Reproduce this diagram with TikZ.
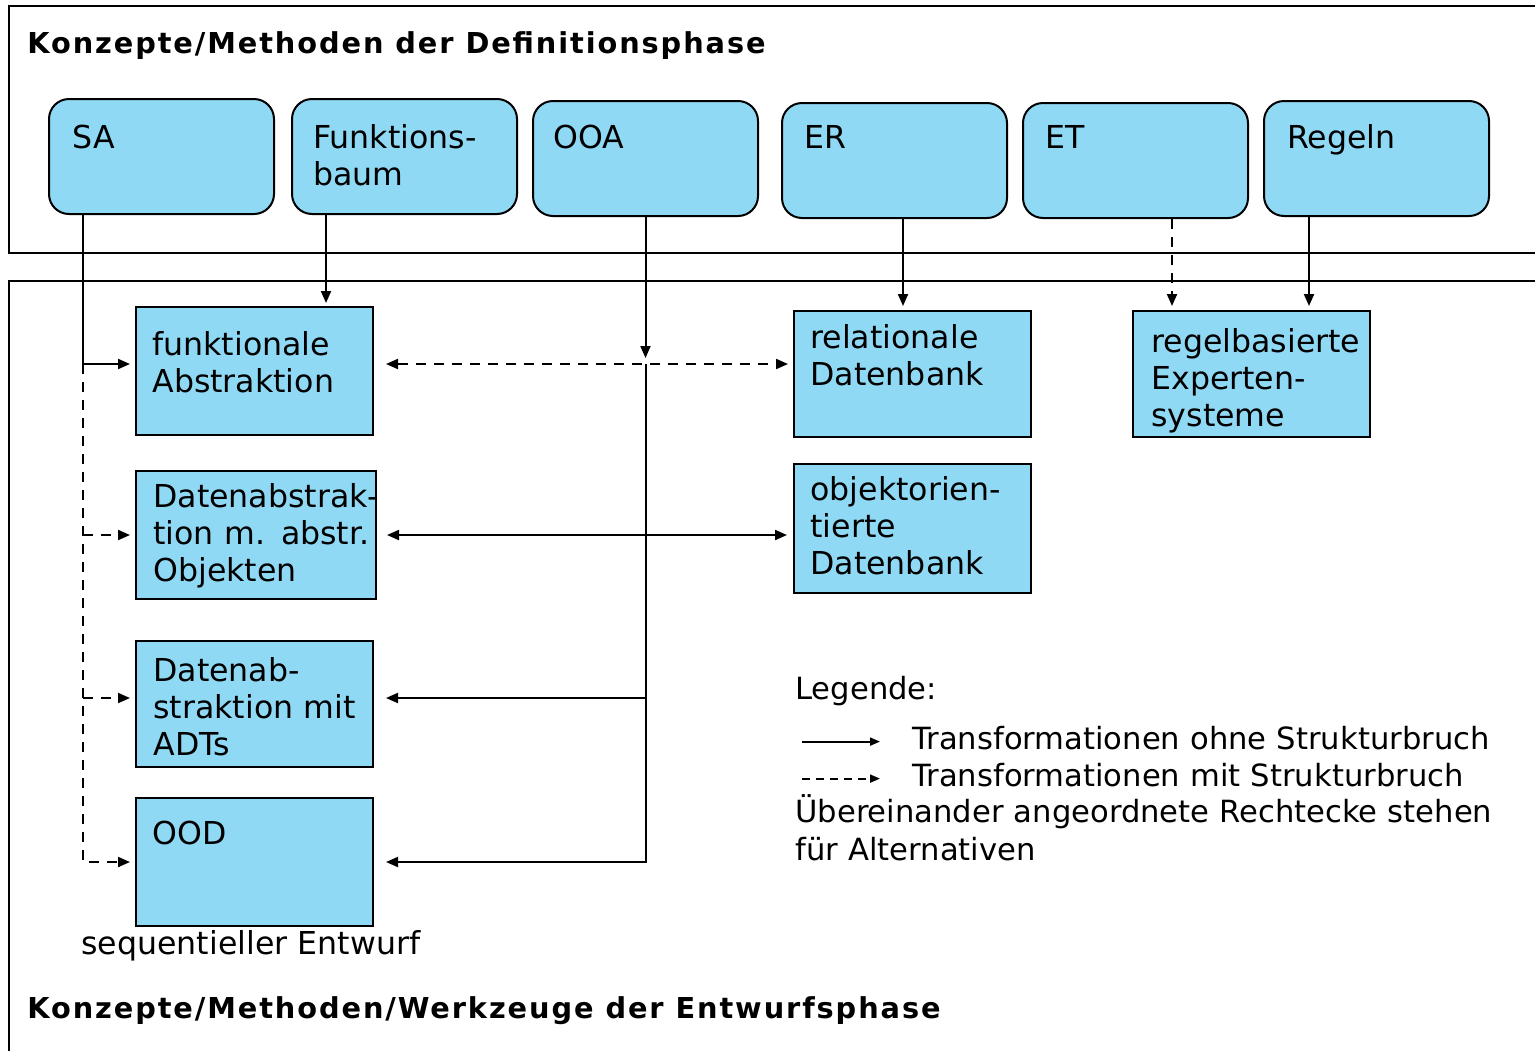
\documentclass[tikz,border=0pt]{standalone}
\usepackage{fontspec}
\setmainfont{DejaVu Sans}
\usetikzlibrary{arrows.meta}
\definecolor{boxblue}{RGB}{144,217,245}
\tikzset{
  topbox/.style={draw, fill=boxblue, line width=1pt, rounded corners=10pt, anchor=north west, inner sep=0pt, minimum width=112.5pt, minimum height=57.5pt},
  lowbox/.style={draw, fill=boxblue, line width=1pt, anchor=north west, inner sep=0pt, minimum width=118.5pt, minimum height=64pt},
  boxtext/.style={anchor=base west, inner sep=0pt, text width=125pt, align=left, font=\fontsize{15.8}{18.5}\selectfont},
  legtext/.style={boxtext, text width=380pt, font=\fontsize{15.3}{19}\selectfont},
  heading/.style={anchor=base west, inner sep=0pt, font=\fontsize{14.4}{17}\selectfont\bfseries\addfontfeatures{LetterSpace=6.6}},
  conn/.style={line width=1pt, -{Triangle[length=6pt,width=5pt]}},
  legconn/.style={line width=1pt, -{Triangle[length=5pt,width=4pt]}},
  dashline/.style={dash pattern=on 5pt off 4pt},
}
\begin{document}
\begin{tikzpicture}[x=0.5pt, y=-0.5pt]
\useasboundingbox (0,0) rectangle (1535,1050);
% frames of the two phases
\draw[line width=1pt] (1540,6) -- (9,6) -- (9,253) -- (1540,253);
\draw[line width=1pt] (1540,281) -- (9,281) -- (9,1060);
\node[heading] (defphase) at (27,53) {Konzepte/Methoden der Definitionsphase};
\node[heading] (entphase) at (27,1018) {Konzepte/Methoden/Werkzeuge der Entwurfsphase};
% methods of the definition phase
\node[topbox] (sa) at (48,98) {};
\node[topbox] (fb) at (291,98) {};
\node[topbox] (ooa) at (532,100) {};
\node[topbox] (er) at (781,102) {};
\node[topbox] (et) at (1022,102) {};
\node[topbox] (rg) at (1263,100) {};
\node[boxtext] (satext) at (72,148) {SA};
\node[boxtext] (fbtext) at (313,148) {Funktions-\\baum};
\node[boxtext] (ooatext) at (553,148) {OOA};
\node[boxtext] (ertext) at (804,148) {ER};
\node[boxtext] (ettext) at (1045,148) {ET};
\node[boxtext] (rgtext) at (1287,148) {Regeln};
% design concepts
\node[lowbox] (fa) at (135,306) {};
\node[lowbox, minimum width=120pt] (da) at (135,470) {};
\node[lowbox, minimum height=63pt] (adt) at (135,640) {};
\node[lowbox] (ood) at (135,797) {};
\node[lowbox, minimum height=63pt] (rdb) at (793,310) {};
\node[lowbox, minimum height=64.5pt] (oodb) at (793,463) {};
\node[lowbox, minimum height=63pt] (xps) at (1132,310) {};
\node[boxtext] (fatext) at (152,355) {funktionale\\Abstraktion};
\node[boxtext] (datext) at (153,507) {Datenabstrak-\\tion m. abstr.\\Objekten};
\node[boxtext] (adttext) at (153,681) {Datenab-\\straktion mit\\ADTs};
\node[boxtext] (oodtext) at (152,844) {OOD};
\node[boxtext] (rdbtext) at (810,348) {relationale\\Datenbank};
\node[boxtext] (oodbtext) at (810,500) {objektorien-\\tierte\\Datenbank};
\node[boxtext] (xpstext) at (1151,352) {regelbasierte\\Experten-\\systeme};
\node[boxtext, text width=200pt] (seq) at (81,954) {sequentieller Entwurf};
% SA
\coordinate (sajoint) at ([xshift=17.5pt, yshift=3.5pt]sa.south west |- fa.west);
\draw[conn] ([xshift=17.5pt]sa.south west) |- ([xshift=-2.5pt, yshift=3.5pt]fa.west);
\draw[conn, dashline] (sajoint) |- ([xshift=-2.5pt]ood.west);
\draw[conn, dashline] (sajoint |- da.west) -- ([xshift=-2.5pt]da.west);
\draw[conn, dashline] ([yshift=3pt]sajoint |- adt.west) -- ([xshift=-2.5pt, yshift=3pt]adt.west);
% Funktionsbaum
\draw[conn, shorten >=1.5pt] ([xshift=17.5pt]fb.south west) -- ([xshift=17.5pt]fb.south west |- fa.north);
% OOA
\coordinate (ooajoint) at (ooa.south |- sajoint);
\draw[conn] (ooa.south) -- ([yshift=3pt]ooajoint);
\draw[conn] (ooajoint) |- ([xshift=6pt]ood.east);
\draw[conn] ([yshift=3pt]ooajoint |- adt.east) -- ([xshift=6pt, yshift=3pt]adt.east);
\draw[conn, dashline, {Triangle[length=6pt,width=5pt]}-{Triangle[length=6pt,width=5pt]}] ([xshift=6pt]fa.east |- sajoint) -- ([xshift=-2.5pt]rdb.west |- sajoint);
\draw[conn, {Triangle[length=6pt,width=5pt]}-{Triangle[length=6pt,width=5pt]}] ([xshift=5pt]da.east) -- ([xshift=-3pt]oodb.west |- da.east);
% ER, ET, Regeln
\draw[conn, shorten >=2pt] ([xshift=61pt]er.south west) -- ([xshift=61pt]er.south west |- rdb.north);
\draw[conn, dashline, shorten >=2pt] ([xshift=75pt]et.south west) -- ([xshift=75pt]et.south west |- xps.north);
\draw[conn, shorten >=2pt] ([xshift=23pt]rg.south west) -- ([xshift=23pt]rg.south west |- xps.north);
% legend
\node[legtext] (legende) at (795,699) {Legende:};
\node[legtext] (ohne) at (912,749) {Transformationen ohne Strukturbruch};
\node[legtext] (mit) at (912,786) {Transformationen mit Strukturbruch};
\node[legtext] (alt) at (795,822) {Übereinander angeordnete Rechtecke stehen\\für Alternativen};
\draw[legconn] ([xshift=-55pt, yshift=-2pt]ohne.west) -- ([xshift=-16pt, yshift=-2pt]ohne.west);
\draw[legconn, dash pattern=on 4pt off 3pt] ([xshift=-55pt, yshift=-2pt]mit.west) -- ([xshift=-16pt, yshift=-2pt]mit.west);
\end{tikzpicture}
\end{document}
